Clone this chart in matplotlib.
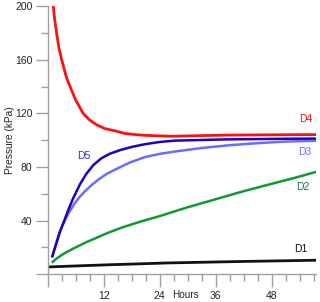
import matplotlib
matplotlib.use("Agg")
import matplotlib.pyplot as plt
from matplotlib.ticker import MultipleLocator, FixedLocator

plt.rcParams['font.family'] = ['Liberation Sans', 'DejaVu Sans']

# Data (hours, kPa)
d4_t = [1.2, 1.5, 1.9, 2.4, 3, 4, 4.8, 6, 7.6, 9, 10.5, 12.3, 14.4, 16.6, 20, 24, 27, 38, 51, 57.6]
d4_v = [200, 190, 180, 169, 160, 147, 140, 130, 120, 115, 111.5, 108.6, 107, 105, 103.8, 103.2, 103, 103.8, 104.1, 104.2]

d5_t = [1.0, 1.8, 2.6, 3.6, 4.4, 5.5, 6.9, 8.3, 9.8, 11.5, 13.3, 15.5, 18, 20.8, 24, 27.3, 38, 51, 57.6]
d5_v = [13.5, 22.5, 31.5, 40.4, 47.9, 57, 67, 75, 81.5, 86.5, 89.9, 92.6, 95, 97, 98.7, 99.7, 100.6, 101.1, 101.2]

d3_t = [1.0, 1.8, 2.6, 3.3, 4.0, 4.8, 5.7, 6.8, 8, 9.5, 11, 12.7, 14.4, 17.5, 20.8, 24, 27.3, 33, 39, 45, 51, 57.6]
d3_v = [13.5, 22.5, 31.5, 37.5, 42.5, 47.5, 52.5, 57.5, 62, 66.8, 71, 75, 78, 83.2, 87.4, 89.8, 91.6, 94.2, 96.3, 97.8, 99, 99.6]

d2_t = [1.1, 2, 3.5, 5.5, 8, 12.6, 16, 19.8, 24, 30, 36, 42, 48, 53, 57.6]
d2_v = [9.3, 12, 15.5, 19.2, 23.5, 30.5, 35, 39.2, 43.4, 50, 56, 62, 67.5, 72, 76.5]

d1_t = [0.1, 13, 26, 42, 57.6]
d1_v = [5.5, 7.1, 8.5, 9.6, 10.5]

x_ticks = [12, 24, 36, 48]
y_ticks = [40, 80, 120, 160, 200]

W, H = 320, 302
fig = plt.figure(figsize=(W / 100, H / 100), dpi=100)
ax = fig.add_axes([0.149, 0.0917, 0.840, 0.888])

ax.plot(d1_t, d1_v, color='#111111', lw=2.0)
ax.plot(d2_t, d2_v, color='#119933', lw=1.8)
ax.plot(d3_t, d3_v, color='#6b6bff', lw=1.8)
ax.plot(d5_t, d5_v, color='#2200bb', lw=1.8)
ax.plot(d4_t, d4_v, color='#ff1010', lw=2.0)

ax.set_xlim(0, 57.6)
ax.set_ylim(0, 200)

ax.xaxis.set_major_locator(FixedLocator([0] + x_ticks))
ax.xaxis.set_minor_locator(MultipleLocator(3))
ax.yaxis.set_major_locator(FixedLocator([0] + y_ticks))
ax.yaxis.set_minor_locator(MultipleLocator(20))
ax.set_xticklabels([''] + [str(v) for v in x_ticks])
ax.set_yticklabels([''] + [str(v) for v in y_ticks])

for s in ['top', 'right']:
    ax.spines[s].set_visible(False)
for s in ['left', 'bottom']:
    ax.spines[s].set_color('#a0a0a0')
    ax.spines[s].set_linewidth(1.0)

ax.tick_params(which='major', length=9, width=1, color='#a0a0a0', labelsize=7.5, labelcolor='#222222', pad=2)
ax.tick_params(which='minor', length=5, width=1, color='#a0a0a0')
ax.tick_params(axis='x', which='major', pad=3)

fig.text(10 / W, 1 - 140 / H, 'Pressure (kPa)', fontsize=7.3, color='#222222',
         rotation=90, ha='center', va='center')
fig.text(185 / W, 1 - 295 / H, 'Hours', fontsize=7.2, color='#222222', ha='center', va='center')

fig.text(306 / W, 1 - 119 / H, 'D4', fontsize=7.5, color='#ee1111', ha='center', va='center')
fig.text(305 / W, 1 - 152 / H, 'D3', fontsize=7.5, color='#6b6bff', ha='center', va='center')
fig.text(303 / W, 1 - 187 / H, 'D2', fontsize=7.5, color='#117733', ha='center', va='center')
fig.text(301 / W, 1 - 249 / H, 'D1', fontsize=7.5, color='#111111', ha='center', va='center')
fig.text(84 / W, 1 - 156 / H, 'D5', fontsize=7.5, color='#2b2bdd', ha='center', va='center')

fig.savefig('out.png', dpi=100)
